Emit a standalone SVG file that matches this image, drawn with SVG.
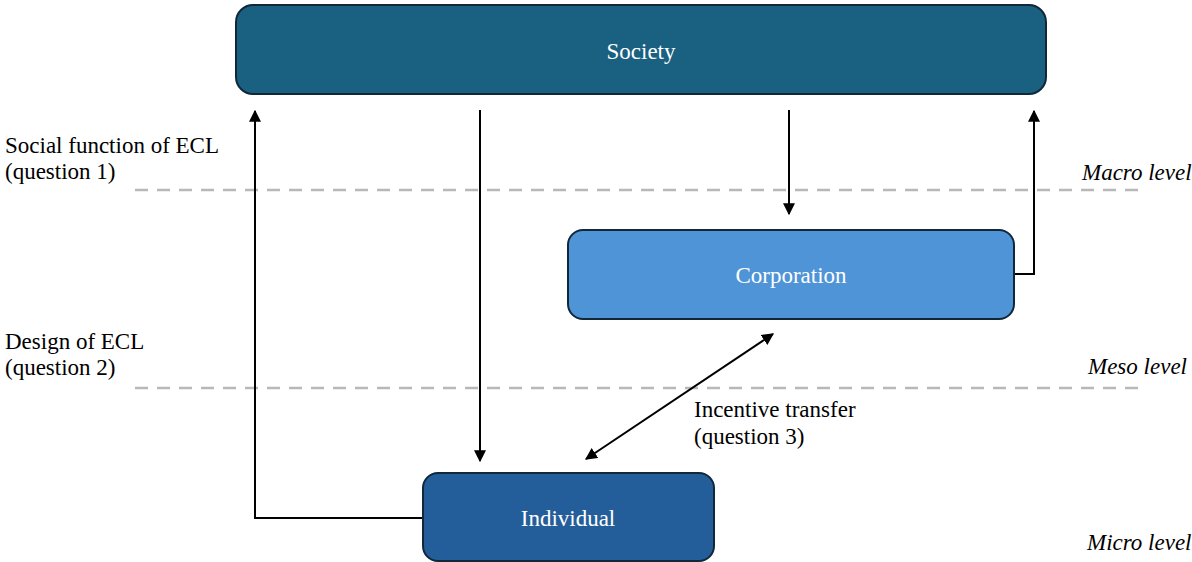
<svg xmlns="http://www.w3.org/2000/svg" width="1192" height="562" viewBox="0 0 1192 562">
<style>
.box{stroke:#10283a;stroke-width:2}
.dash{stroke:#b8b8b8;stroke-width:2.5;stroke-dasharray:13 9;fill:none}
.c{stroke:#000;stroke-width:2;fill:none}
</style>
<defs>
<marker id="ah" viewBox="0 0 10 10" refX="9" refY="5" markerWidth="6" markerHeight="6" orient="auto-start-reverse" markerUnits="strokeWidth">
<path d="M0,0 L10,5 L0,10 z" fill="#000"/>
</marker>
</defs>
<rect width="1192" height="562" fill="#fff"/>
<g id="levels">
<line class="dash" x1="135" y1="190" x2="1145" y2="190"/>
<line class="dash" x1="135" y1="388" x2="1145" y2="388"/>
<g font-family="Liberation Serif" font-size="23" font-style="italic" fill="#000">
<text x="1082" y="180">Macro level</text>
<text x="1088" y="374">Meso level</text>
<text x="1087" y="550">Micro level</text>
</g>
</g>
<g id="questions" font-family="Liberation Serif" font-size="23" fill="#000">
<text x="5" y="153">Social function of ECL</text>
<text x="5" y="179">(question 1)</text>
<text x="5" y="349">Design of ECL</text>
<text x="5" y="375">(question 2)</text>
<text x="694" y="417">Incentive transfer</text>
<text x="694" y="444">(question 3)</text>
</g>
<g id="connectors">
<polyline class="c" points="423,518 255,518 255,111" marker-end="url(#ah)"/>
<line class="c" x1="480" y1="110" x2="480" y2="461" marker-end="url(#ah)"/>
<line class="c" x1="789" y1="110" x2="789" y2="214" marker-end="url(#ah)"/>
<polyline class="c" points="1014,274 1034,274 1034,111" marker-end="url(#ah)"/>
<line class="c" x1="586" y1="459" x2="773" y2="334" marker-start="url(#ah)" marker-end="url(#ah)"/>
</g>
<g id="society">
<rect class="box" x="236" y="5" width="810" height="89" rx="17" fill="#1a6081"/>
<text x="641" y="59" font-family="Liberation Serif" font-size="23" fill="#fff" text-anchor="middle">Society</text>
</g>
<g id="corporation">
<rect class="box" x="568" y="230" width="446" height="89" rx="15" fill="#4f94d7"/>
<text x="791" y="283" font-family="Liberation Serif" font-size="23" fill="#fff" text-anchor="middle">Corporation</text>
</g>
<g id="individual">
<rect class="box" x="423" y="473" width="291" height="88" rx="15" fill="#245e9a"/>
<text x="568" y="526" font-family="Liberation Serif" font-size="23" fill="#fff" text-anchor="middle">Individual</text>
</g>
</svg>
